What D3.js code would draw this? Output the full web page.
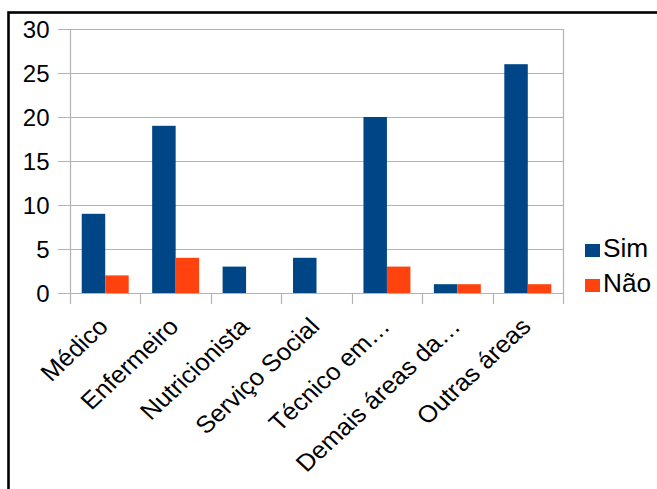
<!DOCTYPE html>
<html><head><meta charset="utf-8">
<script src="https://cdn.jsdelivr.net/npm/d3@7"></script>
<style>body{margin:0;background:#fff}svg{display:block}</style>
</head><body>
<script>
const categories = ["Médico","Enfermeiro","Nutricionista","Serviço Social","Técnico em…","Demais áreas da…","Outras áreas"];
const seriesNames = ["Sim","Não"];
const simValues = [9,19,3,4,20,1,26];
const naoValues = [2,4,0,0,3,1,1];
const yTicks = [0,5,10,15,20,25,30];
const colors = ["#004586","#ff420e"];

const W=657,H=489, L=70,R=563,T=29,B=293, FS=24;
const svg=d3.select("body").append("svg").attr("width",W).attr("height",H);
svg.append("rect").attr("width",W).attr("height",H).attr("fill","#fff");
svg.append("rect").attr("x",8.5).attr("y",12.5).attr("width",800).attr("height",800)
  .attr("fill","none").attr("stroke","#000").attr("stroke-width",2.6);

const y=d3.scaleLinear().domain([0,30]).range([B,T]);
const x0=d3.scaleBand().domain(categories).range([L,R]);
const bw=x0.bandwidth();
const x1=d3.scaleBand().domain(seriesNames).range([bw/6,bw*5/6]);
const grid="#b3b3b3";
const font="'Liberation Sans',Arial,sans-serif";

// gridlines
svg.append("g").selectAll("line").data(yTicks).join("line")
  .attr("x1",L-12).attr("x2",R).attr("y1",d=>Math.round(y(d))+0.5).attr("y2",d=>Math.round(y(d))+0.5)
  .attr("stroke",grid).attr("stroke-width",1.2);
// vertical boundaries/ticks
const bounds=categories.map(c=>x0(c)).concat([R]);
svg.append("g").selectAll("line").data(bounds).join("line")
  .attr("x1",d=>Math.round(d)+0.5).attr("x2",d=>Math.round(d)+0.5)
  .attr("y1",B).attr("y2",B+11).attr("stroke",grid).attr("stroke-width",1.2);
svg.append("line").attr("x1",L+0.5).attr("x2",L+0.5).attr("y1",T).attr("y2",B).attr("stroke",grid).attr("stroke-width",1.2);
svg.append("line").attr("x1",R+0.5).attr("x2",R+0.5).attr("y1",T).attr("y2",B).attr("stroke",grid).attr("stroke-width",1.2);

// bars
const data=categories.map((c,i)=>({c,vals:[{s:"Sim",v:simValues[i]},{s:"Não",v:naoValues[i]}]}));
const g=svg.append("g").selectAll("g").data(data).join("g").attr("transform",d=>`translate(${x0(d.c)},0)`);
g.selectAll("rect").data(d=>d.vals).join("rect")
  .attr("x",d=>x1(d.s)).attr("width",x1.bandwidth())
  .attr("y",d=>y(d.v)).attr("height",d=>B-y(d.v))
  .attr("fill",(d,i)=>colors[i]);

// y labels
svg.append("g").selectAll("text").data(yTicks).join("text")
  .attr("x",49.5).attr("y",d=>y(d)+9)
  .attr("text-anchor","end").attr("font-family",font).attr("font-size",FS).attr("fill","#000")
  .text(d=>d);

// x labels
svg.append("g").selectAll("text").data(categories).join("text")
  .attr("transform",d=>`translate(${x0(d)+bw/2+4.5},328) scale(1.07,1) rotate(-45)`)
  .attr("text-anchor","end").attr("font-family",font).attr("font-size",FS).attr("fill","#000")
  .text(d=>d);

// legend
const lg=svg.append("g").selectAll("g").data(seriesNames).join("g")
  .attr("transform",(d,i)=>`translate(585,${244+i*35})`);
lg.append("rect").attr("width",15).attr("height",13).attr("fill",(d,i)=>colors[i]);
lg.append("text").attr("transform",`translate(18,13) scale(1.05,1)`)
  .attr("font-family",font).attr("font-size",25).attr("fill","#000").text(d=>d);
</script>
</body></html>
